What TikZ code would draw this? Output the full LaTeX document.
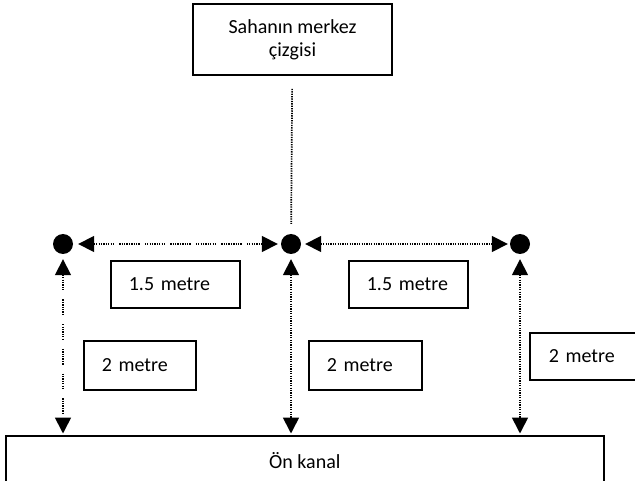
\documentclass[tikz,border=0pt]{standalone}
\usepackage{fontspec}
\setmainfont{Carlito}
\usetikzlibrary{arrows.meta}
\begin{document}
\begin{tikzpicture}[x=1pt,y=-1pt,
  lbl/.style={draw, line width=1.7pt, inner ysep=0pt, inner xsep=0pt, font=\fontsize{20}{23}\selectfont, align=center},
  lbox/.style={lbl, anchor=north west, align=left, inner xsep=18pt},
  dot/.style={circle, fill=black, minimum size=20pt, inner sep=0pt},
  conn/.style={line width=1.7pt, draw=black},
  dotted line/.style={dash pattern=on 1.3pt off 1.1pt},
  dotgrp/.style={dash pattern=on 1.3pt off 1.1pt on 1.3pt off 1.1pt on 1.3pt off 1.1pt on 1.3pt off 1.1pt on 1.3pt off 1.1pt on 1.3pt off 1.1pt on 1.3pt off 1.1pt on 1.3pt off 1.1pt on 1.3pt off 5pt},
  dotgrpv/.style={dash pattern=on 1.3pt off 1.1pt on 1.3pt off 1.1pt on 1.3pt off 1.1pt on 1.3pt off 1.1pt on 1.3pt off 1.1pt on 1.3pt off 1.1pt on 1.3pt off 9pt},
  tips/.style={{Triangle[length=16pt,width=16pt]}-{Triangle[length=16pt,width=16pt]}},
]
\useasboundingbox (0,0) rectangle (635,481);
\clip (0,0) rectangle (635,481);

\node[lbl, minimum width=199pt, minimum height=71pt] (top) at (292.5,39.5) {Sahanın merkez\\çizgisi};

\node[dot] (dL) at (63,244) {};
\node[dot] (dC) at (291,244) {};
\node[dot] (dR) at (520,244) {};

\node[lbox, text width=93pt, minimum height=47pt] (a1) at (110,260) {1.5 metre};
\node[lbox, text width=83pt, minimum height=47pt] (a2) at (348,260) {1.5 metre};
\node[lbox, text width=76pt, minimum height=49pt] (b1) at (83,340) {2 metre};
\node[lbox, text width=77pt, minimum height=49pt] (b2) at (308,340) {2 metre};
\node[lbox, text width=83pt, inner xsep=19pt, minimum height=47pt] (b3) at (529,332) {2 metre};

\node[lbl, anchor=north west, minimum width=598pt, minimum height=50pt] (kanal) at (5,435) {Ön kanal};

% centre line
\draw[conn, dotted line, shorten <=13pt, shorten >=10pt] (top) -- (dC);

% horizontal distances
\draw[conn, dotgrp, tips, shorten <=5pt, shorten >=3pt] (dL) -- (dC);
\draw[conn, dotted line, tips, shorten <=4pt, shorten >=2pt] (dC) -- (dR);

% vertical distances
\draw[conn, dotgrpv, tips, shorten <=5pt, shorten >=1.5pt] (dL) -- (dL |- kanal.north);
\draw[conn, dotted line, tips, shorten <=5pt, shorten >=1.5pt] (dC) -- (dC |- kanal.north);
\draw[conn, dotted line, tips, shorten <=5pt, shorten >=1.5pt] (dR) -- (dR |- kanal.north);
\end{tikzpicture}
\end{document}
